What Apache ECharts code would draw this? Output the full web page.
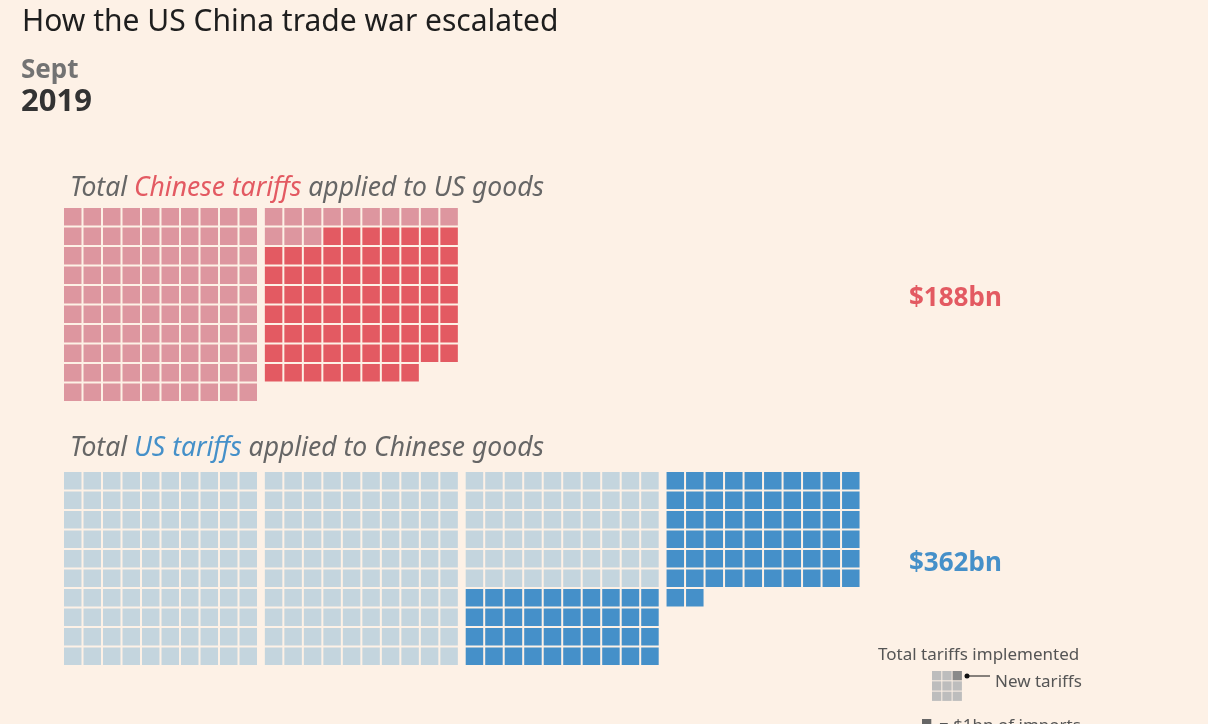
<!DOCTYPE html>
<html>
<head>
<meta charset="utf-8">
<script src="https://cdn.jsdelivr.net/npm/echarts@6/dist/echarts.min.js"></script>
<style>
  html, body { margin: 0; padding: 0; background: #fdf1e6; }
  #chart { width: 1208px; height: 724px; }
</style>
</head>
<body>
<div id="chart"></div>
<script>
// tariffs in $bn, one square = $1bn of imports
const sides = ['china', 'us'];
const priorTariffs = [113, 260];  // in place before Sept 2019
const newTariffs = [75, 102];     // added in Sept 2019
const totalLabels = ['$188bn', '$362bn'];

const lightColors = ['#dd969f', '#c4d5de'];
const darkColors = ['#e35a62', '#4590c9'];
const font = 'Noto Sans';

// squares fill 10x10 blocks, row by row, old tariffs first
function waffle(prior, added) {
    const cells = [];
    for (let i = 0; i < prior + added; i++) {
        const block = Math.floor(i / 100);
        const inBlock = i % 100;
        cells.push([block * 10.3 + inBlock % 10, Math.floor(inBlock / 10), i >= prior ? 1 : 0]);
    }
    return cells;
}

const chart = echarts.init(document.getElementById('chart'));

const gridTops = [208, 472];
const grids = gridTops.map(top => ({left: 64, top: top, width: 41 * 19.5, height: 195}));
const xAxes = sides.map((s, i) => ({type: 'value', gridIndex: i, min: 0, max: 41, show: false}));
const yAxes = sides.map((s, i) => ({type: 'value', gridIndex: i, min: 0, max: 10, inverse: true, show: false}));

const series = sides.map((s, i) => ({
    type: 'custom',
    name: s,
    xAxisIndex: i,
    yAxisIndex: i,
    data: waffle(priorTariffs[i], newTariffs[i]),
    renderItem: function (params, api) {
        const p = api.coord([api.value(0), api.value(1)]);
        const size = api.size([1, 1]);
        return {
            type: 'rect',
            shape: {x: p[0], y: p[1], width: size[0] - 2, height: size[1] - 2},
            style: {fill: api.value(2) ? darkColors[i] : lightColors[i]}
        };
    }
}));

const subTexts = [
    ['Total ', 'Chinese tariffs', ' applied to US goods'],
    ['Total ', 'US tariffs', ' applied to Chinese goods']
];
const subY = [188, 448];
const labelY = [299, 564];

const graphics = [
    {type: 'text', x: 22, y: 22, style: {text: 'How the US China trade war escalated', font: '30px "' + font + '"', fill: '#1e1e1e', verticalAlign: 'middle'}},
    {type: 'text', x: 21, y: 71, style: {text: 'Sept', font: 'bold 26px "' + font + '"', fill: '#737373', verticalAlign: 'middle'}},
    {type: 'text', x: 21, y: 102, style: {text: '2019', font: 'bold 31px "' + font + '"', fill: '#333333', verticalAlign: 'middle'}}
];

sides.forEach((s, i) => {
    const t = subTexts[i];
    graphics.push({
        type: 'text', x: 70, y: subY[i],
        style: {
            text: '{a|' + t[0] + '}{b|' + t[1] + '}{a|' + t[2] + '}',
            verticalAlign: 'middle',
            rich: {
                a: {font: 'italic 26.5px "' + font + '"', fill: '#666666'},
                b: {font: 'italic 26.5px "' + font + '"', fill: darkColors[i]}
            }
        }
    });
    graphics.push({
        type: 'text', x: 909, y: labelY[i],
        style: {text: totalLabels[i], font: 'bold 26px "' + font + '"', fill: darkColors[i], verticalAlign: 'middle'}
    });
});

// key: 3x3 squares with the new one picked out
graphics.push({type: 'text', x: 878, y: 655, style: {text: 'Total tariffs implemented', font: '17px "' + font + '"', fill: '#555555', verticalAlign: 'middle'}});
for (let r = 0; r < 3; r++) {
    for (let c = 0; c < 3; c++) {
        graphics.push({type: 'rect', shape: {x: 932 + c * 10.3, y: 671 + r * 10.3, width: 9.3, height: 9.3},
            style: {fill: (r === 0 && c === 2) ? '#8a8a8a' : '#bdbdbd'}});
    }
}
graphics.push({type: 'circle', shape: {cx: 967, cy: 676, r: 2.5}, style: {fill: '#111'}});
graphics.push({type: 'line', shape: {x1: 967, y1: 676, x2: 990, y2: 676}, style: {stroke: '#111', lineWidth: 1}});
graphics.push({type: 'text', x: 995, y: 682, style: {text: 'New tariffs', font: '17px "' + font + '"', fill: '#555555', verticalAlign: 'middle'}});
graphics.push({type: 'rect', shape: {x: 922, y: 719, width: 9.3, height: 9.3}, style: {fill: '#666'}});
graphics.push({type: 'text', x: 939, y: 726, style: {text: '= $1bn of imports', font: '17px "' + font + '"', fill: '#555555', verticalAlign: 'middle'}});

chart.setOption({
    backgroundColor: '#fdf1e6',
    animation: false,
    grid: grids,
    xAxis: xAxes,
    yAxis: yAxes,
    series: series,
    graphic: graphics
});
</script>
</body>
</html>
